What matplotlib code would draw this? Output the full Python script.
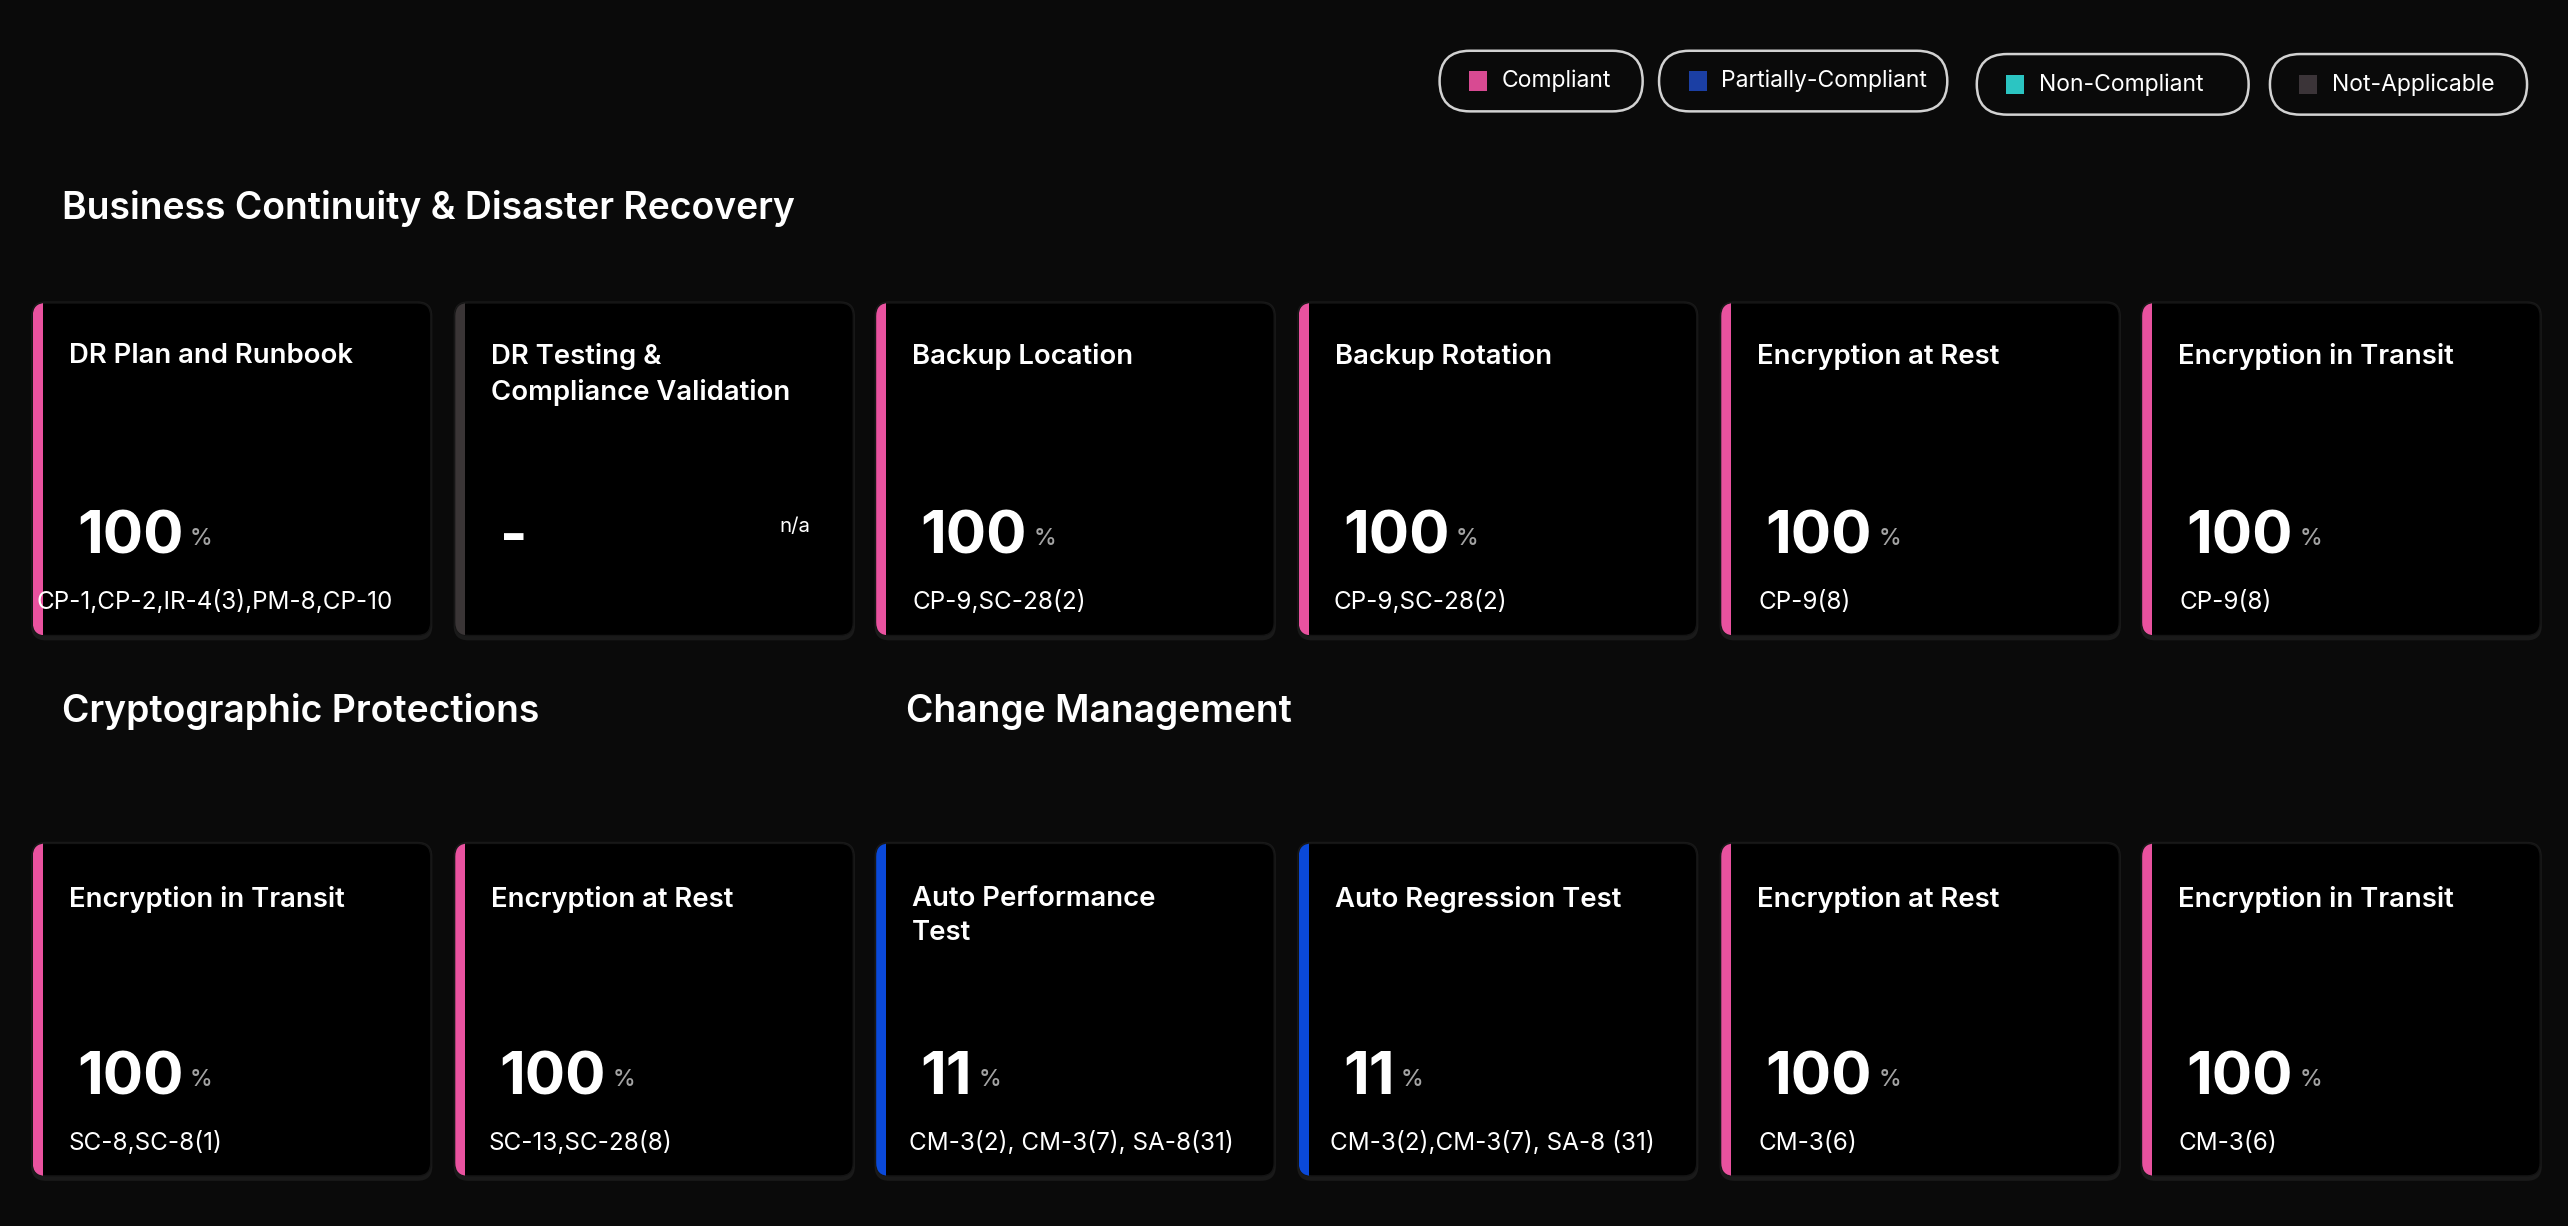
import matplotlib
matplotlib.use("Agg")
from matplotlib import pyplot as plt
from matplotlib.patches import FancyBboxPatch, Rectangle

plt.rcParams['font.family'] = ['Inter', 'DejaVu Sans']

# ---- data ----
sections = ["Business Continuity & Disaster Recovery", "Cryptographic Protections", "Change Management"]

row1_titles = ["DR Plan and Runbook", "DR Testing &\nCompliance Validation", "Backup Location",
               "Backup Rotation", "Encryption at Rest", "Encryption in Transit"]
row1_values = [100, None, 100, 100, 100, 100]
row1_codes = ["CP-1,CP-2,IR-4(3),PM-8,CP-10", "", "CP-9,SC-28(2)", "CP-9,SC-28(2)", "CP-9(8)", "CP-9(8)"]
row1_status = ["Compliant", "Not-Applicable", "Compliant", "Compliant", "Compliant", "Compliant"]

row2_titles = ["Encryption in Transit", "Encryption at Rest", "Auto Performance\nTest",
               "Auto Regression Test", "Encryption at Rest", "Encryption in Transit"]
row2_values = [100, 100, 11, 11, 100, 100]
row2_codes = ["SC-8,SC-8(1)", "SC-13,SC-28(8)", "CM-3(2), CM-3(7), SA-8(31)",
              "CM-3(2),CM-3(7), SA-8 (31)", "CM-3(6)", "CM-3(6)"]
row2_status = ["Compliant", "Compliant", "Partially-Compliant", "Partially-Compliant", "Compliant", "Compliant"]

legend_labels = ["Compliant", "Partially-Compliant", "Non-Compliant", "Not-Applicable"]

bar_colors = {"Compliant": "#e9529f", "Partially-Compliant": "#0a49d9",
              "Non-Compliant": "#2bc5c2", "Not-Applicable": "#3a3536"}
legend_colors = {"Compliant": "#d84a92", "Partially-Compliant": "#1b3fa4",
                 "Non-Compliant": "#2bc5c2", "Not-Applicable": "#3b3438"}

# ---- layout (reference pixel grid, 1568 wide) ----
W = 1568
H = W * 1226 / 2568
BG = "#0a0a0a"
card_x = [20, 278, 535, 793, 1051, 1308]
card_w, card_h = 243, 203
row_tops = [185, 515]
title_dy = [24.5, 26]
code_dx = [[2, 22, 22, 21, 23, 23], [22, 20, 20, 19, 23, 22]]

pt = (2568 / W) * 0.72   # reference px -> points


fig = plt.figure(figsize=(25.68, 12.26), dpi=100, facecolor=BG)
ax = fig.add_axes([0, 0, 1, 1])
ax.set_xlim(0, W)
ax.set_ylim(H, 0)
ax.axis('off')
ax.set_facecolor(BG)
renderer = fig.canvas.get_renderer()


def draw_card(x0, y0, tdy, title, value, codes, status, cdx):
    # soft shadow / border
    ax.add_patch(FancyBboxPatch((x0 - 1, y0 - 1), card_w + 2, card_h + 4,
                                boxstyle="round,pad=0,rounding_size=9",
                                fc="#1a1a1a", ec="none", zorder=1))
    card = FancyBboxPatch((x0, y0), card_w, card_h,
                          boxstyle="round,pad=0,rounding_size=8",
                          fc="#000000", ec="#141414", lw=1.0, zorder=2)
    ax.add_patch(card)
    stripe = Rectangle((x0, y0), 6, card_h, fc=bar_colors[status], ec="none", zorder=3)
    ax.add_patch(stripe)
    stripe.set_clip_path(card)

    ax.text(x0 + 22, y0 + tdy, title, color="white", fontsize=16.8 * pt,
            fontweight='semibold', va='top', ha='left', linespacing=1.42, zorder=4)

    if value is None:
        ax.text(x0 + 27, y0 + 153, "-", color="white", fontsize=36 * pt,
                fontweight='bold', va='baseline', ha='left', zorder=4)
        ax.text(x0 + 198, y0 + 137, "n/a", color="white", fontsize=12.5 * pt,
                va='center', ha='left', zorder=4)
    else:
        num = ax.text(x0 + 27, y0 + 153, str(value), color="white", fontsize=36.5 * pt,
                      fontweight='bold', va='baseline', ha='left', zorder=4)
        bb = num.get_window_extent(renderer).transformed(ax.transData.inverted())
        ax.text(bb.x1 + 4, y0 + 148, "%", color="#a3a3a3", fontsize=14 * pt,
                fontweight='medium', va='baseline', ha='left', zorder=4)

    if codes:
        ax.text(x0 + cdx, y0 + 187, codes, color="white", fontsize=14.8 * pt,
                va='baseline', ha='left', zorder=4)


# ---- legend pills ----
pill_x = [879, 1013, 1207, 1386]
pill_w = [124, 176, 166, 157]
pill_y = [31, 31, 33, 33]
for lab, px, pw, py in zip(legend_labels, pill_x, pill_w, pill_y):
    ax.add_patch(FancyBboxPatch((px, py), pw, 37,
                                boxstyle="round,pad=0,rounding_size=18.5",
                                fc=BG, ec="#d2d2d2", lw=1.8, zorder=2))
    ax.add_patch(Rectangle((px + 18, py + 12.5), 11, 12,
                           fc=legend_colors[lab], ec="none", zorder=3))
    ax.text(px + 38, py + 18.5, lab, color="white", fontsize=14 * pt,
            va='center', ha='left', zorder=3)

# ---- section headings ----
head_pos = [(38, 134), (38, 441), (553, 441)]
for name, (hx, hy) in zip(sections, head_pos):
    ax.text(hx, hy, name, color="white", fontsize=22.8 * pt, fontweight='semibold',
            va='baseline', ha='left')

# ---- cards ----
rows = [(row1_titles, row1_values, row1_codes, row1_status),
        (row2_titles, row2_values, row2_codes, row2_status)]
for r, (titles, values, codes, status) in enumerate(rows):
    for i in range(len(titles)):
        draw_card(card_x[i], row_tops[r], title_dy[r], titles[i], values[i], codes[i],
                  status[i], code_dx[r][i])

fig.savefig("out.png", dpi=100, facecolor=BG)
